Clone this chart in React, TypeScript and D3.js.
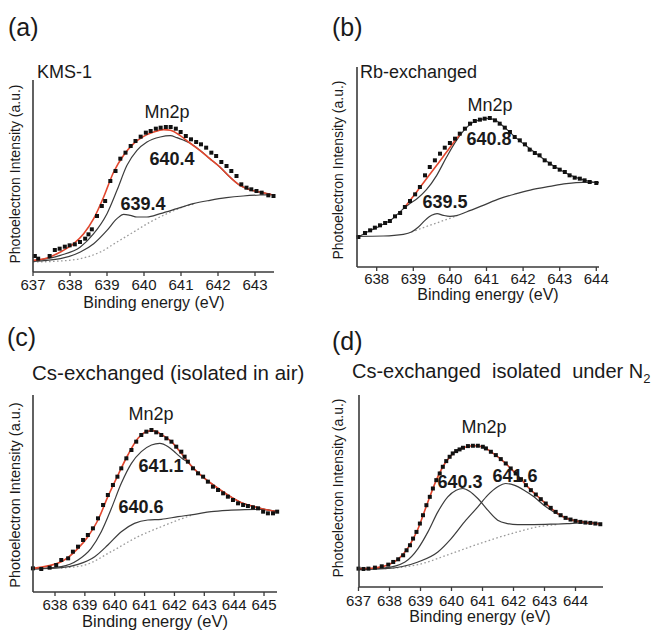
import React from 'react';
import * as d3 from 'd3';

const FONT = '"Liberation Sans", Arial, Helvetica, sans-serif';

// ---------- Panel (a) KMS-1 ----------
const aTicks = [637, 638, 639, 640, 641, 642, 643];
const aData = [[637.05,48],[637.14,40],[637.45,48],[637.59,66],[637.72,70],[637.86,76],[637.99,80],[638.13,83],[638.27,90],[638.41,100],[638.5,113],[638.59,128],[638.73,168],[638.86,198],[638.95,213],[639.09,273],[639.23,303],[639.36,340],[639.5,358],[639.64,378],[639.77,393],[639.91,406],[640.05,418],[640.18,423],[640.32,430],[640.45,433],[640.59,435],[640.72,435],[640.86,430],[640.99,420],[641.13,408],[641.27,398],[641.41,390],[641.54,383],[641.68,373],[641.82,358],[641.95,348],[642.09,330],[642.23,318],[642.36,303],[642.5,288],[642.63,263],[642.77,253],[642.9,248],[643.04,243],[643.18,238],[643.36,230],[643.5,228]];
const aFit = [[637.0,35],[637.38,42],[637.74,60],[638.1,85],[638.37,115],[638.64,160],[638.91,225],[639.18,300],[639.45,350],[639.72,385],[639.99,407],[640.26,420],[640.53,427],[640.71,425],[640.97,410],[641.24,387],[641.51,365],[641.78,340],[642.05,315],[642.32,285],[642.59,260],[642.86,247],[643.13,240],[643.45,232]];
const aPeakHigh = [[637.0,33],[637.74,50],[638.28,75],[638.64,115],[639.0,175],[639.27,245],[639.54,320],[639.81,365],[640.08,390],[640.44,405],[640.71,409],[640.89,403],[641.06,396],[641.24,387],[641.51,365],[641.78,340],[642.05,315],[642.32,285],[642.59,260],[642.86,247],[643.13,240],[643.45,232]];
const aPeakLow = [[637.0,32],[637.74,40],[638.28,60],[638.64,85],[639.0,125],[639.27,160],[639.45,173],[639.63,170],[639.81,165],[640.08,165],[640.44,175],[640.89,190],[641.33,205],[641.78,215],[642.23,223],[642.68,228],[643.13,231],[643.45,232]];
const aBackground = [[637.0,30],[637.74,33],[638.28,40],[638.82,60],[639.27,90],[639.72,120],[640.17,150],[640.62,175],[641.06,195],[641.35,204]];
const aPeakLabels = ['640.4', '639.4'];

// ---------- Panel (b) Rb-exchanged ----------
const bTicks = [638, 639, 640, 641, 642, 643, 644];
const bData = [[637.5,90],[637.68,102],[637.82,110],[637.95,118],[638.09,125],[638.23,132],[638.36,138],[638.5,152],[638.64,162],[638.77,180],[638.91,198],[639.05,218],[639.18,240],[639.32,275],[639.45,300],[639.59,320],[639.73,340],[639.86,358],[640.0,372],[640.14,385],[640.27,400],[640.41,415],[640.55,430],[640.68,438],[640.82,442],[640.95,445],[641.09,447],[641.23,440],[641.36,430],[641.5,418],[641.64,405],[641.77,390],[641.91,380],[642.05,368],[642.18,352],[642.32,342],[642.45,335],[642.59,320],[642.73,310],[642.86,300],[643.0,292],[643.14,285],[643.27,275],[643.41,268],[643.55,265],[643.68,260],[643.82,255],[644.0,252]];
const bFit = [[638.77,180],[639.09,225],[639.36,265],[639.64,305],[639.91,345],[640.18,385],[640.3,400]];
const bPeakHigh = [[637.5,90],[637.8,108],[638.1,124],[638.4,142],[638.7,172],[638.9,190],[639.1,205],[639.36,232],[639.64,275],[639.91,330],[640.18,380],[640.4,412],[640.6,432],[640.85,443],[641.05,446],[641.25,440],[641.5,418],[641.8,388],[642.1,362],[642.4,337],[642.7,313],[643.0,293],[643.3,275],[643.6,263],[643.9,255],[644.07,252]];
const bPeakLow = [[637.45,92],[638.18,93],[638.73,98],[638.95,105],[639.14,120],[639.32,140],[639.5,155],[639.65,160],[639.82,155],[640.0,152],[640.18,154],[640.45,165],[640.91,185],[641.36,205],[641.82,220],[642.27,233],[642.73,242],[643.18,250],[643.64,254],[644.07,254]];
const bBackground = [[638.95,105],[639.45,125],[640.0,146],[640.2,154]];
const bPeakLabels = ['640.8', '639.5'];

// ---------- Panel (c) Cs-exchanged (air) ----------
const cTicks = [638, 639, 640, 641, 642, 643, 644, 645];
const cData = [[637.26,71],[637.54,69],[637.82,73],[638.04,81],[638.21,96],[638.44,101],[638.6,121],[638.77,136],[638.94,156],[639.1,171],[639.27,191],[639.44,221],[639.61,261],[639.77,291],[639.94,321],[640.09,346],[640.22,371],[640.39,401],[640.56,426],[640.72,451],[640.89,471],[641.06,481],[641.23,486],[641.39,479],[641.56,471],[641.73,461],[641.9,451],[642.06,436],[642.23,421],[642.34,406],[642.45,391],[642.62,371],[642.79,356],[642.96,346],[643.12,331],[643.29,316],[643.46,306],[643.63,296],[643.79,286],[643.96,276],[644.13,266],[644.3,261],[644.46,258],[644.63,254],[644.8,251],[644.97,241],[645.13,236],[645.3,236],[645.44,241]];
const cFit = [[637.26,71],[638.21,91],[638.77,131],[639.1,166],[639.44,216],[639.77,286],[640.11,351],[640.44,411],[640.78,461],[641.06,481],[641.28,484],[641.56,473],[641.9,451],[642.23,416],[642.57,378],[642.9,349],[643.35,318],[643.79,291],[644.24,268],[644.68,256],[645.13,246],[645.44,241]];
const cPeakHigh = [[637.26,69],[638.21,76],[638.77,96],[639.21,131],[639.55,181],[639.89,251],[640.22,326],[640.56,386],[640.89,421],[641.23,441],[641.51,446],[641.79,436],[642.06,416],[642.29,398],[642.45,390],[642.57,378],[642.9,349],[643.35,318],[643.79,291],[644.24,268],[644.68,256],[645.13,246],[645.44,241]];
const cPeakLow = [[637.26,69],[638.21,73],[638.77,83],[639.33,106],[639.77,141],[640.22,181],[640.66,206],[641.11,216],[641.56,218],[642.12,226],[642.68,233],[643.23,241],[643.79,245],[644.35,247],[644.91,248],[645.44,241]];
const cBackground = [[638.2,72],[639.0,81],[639.88,121],[640.78,166],[641.56,196],[642.34,223],[642.6,231]];
const cPeakLabels = ['641.1', '640.6'];

// ---------- Panel (d) Cs-exchanged (N2) ----------
const dTicks = [637, 638, 639, 640, 641, 642, 643, 644];
const dData = [[637.0,55],[637.16,54],[637.32,55],[637.53,58],[637.75,62],[637.96,67],[638.12,75],[638.28,83],[638.44,95],[638.55,110],[638.66,125],[638.76,145],[638.87,165],[638.98,190],[639.08,215],[639.19,245],[639.3,270],[639.4,295],[639.51,320],[639.62,340],[639.72,360],[639.83,377],[639.94,390],[640.04,400],[640.15,407],[640.26,412],[640.37,417],[640.53,422],[640.69,423],[640.85,423],[641.01,420],[641.11,415],[641.27,405],[641.43,395],[641.59,383],[641.75,370],[641.91,355],[642.07,340],[642.24,323],[642.4,305],[642.56,290],[642.72,277],[642.88,263],[643.04,250],[643.2,237],[643.36,225],[643.52,215],[643.68,207],[643.84,202],[644.0,198],[644.16,195],[644.32,193],[644.48,192],[644.64,190],[644.8,188]];
const dFit = [[637.0,55],[637.5,57],[638.0,68],[638.3,85],[638.6,118],[638.9,170],[639.2,245],[639.5,318],[639.8,372],[640.1,404],[640.4,418],[640.7,423],[641.0,420],[641.3,403],[641.6,382],[641.9,356],[642.2,327],[642.5,296],[642.8,270],[643.1,245],[643.4,222],[643.7,206],[644.0,198],[644.3,193],[644.6,190],[644.85,188]];
const dPeakLeft = [[637.0,53],[637.85,57],[638.5,75],[638.92,115],[639.24,165],[639.56,225],[639.88,270],[640.15,290],[640.37,295],[640.58,287],[640.85,265],[641.17,230],[641.49,200],[641.81,190],[642.13,187],[642.66,187],[643.2,188],[643.73,190],[644.26,192],[644.8,190]];
const dPeakRight = [[637.0,53],[637.85,55],[638.92,75],[639.56,105],[639.99,145],[640.42,195],[640.85,240],[641.17,275],[641.49,300],[641.75,310],[642.02,305],[642.34,290],[642.66,270],[642.98,245],[643.3,225],[643.62,210],[643.94,200],[644.26,195],[644.8,190]];
const dBackground = [[637.85,55],[638.92,67],[639.99,100],[641.06,135],[642.13,165],[642.77,180],[643.41,187]];
const dPeakLabels = ['640.3', '641.6'];

const Y_LABEL = 'Photoelectron Intensity (a.u.)';
const X_LABEL = 'Binding energy (eV)';
const PEAK_NAME = 'Mn2p';

// ---------- Layout ----------
type Txt = { x: number; y: number; size: number };
type Panel = {
  letter: string; title: string; titleSub?: string;
  ticks: number[]; data: number[][]; fit: number[][]; comps: number[][][]; bg: number[][];
  peakLabels: string[];
  left: number; right: number; top: number; bottom: number;
  x0: number; x0px: number; pxPerEv: number; yMax: number;
  letterPos: Txt; titlePos: Txt; yLabel: Txt; xLabel: Txt; tickY: number; tickSize: number;
  mnPos: Txt; peakPos: Txt[];
};

const panels: Panel[] = [
  {
    letter: '(a)', title: 'KMS-1', ticks: aTicks, data: aData, fit: aFit, comps: [aPeakHigh, aPeakLow], bg: aBackground, peakLabels: aPeakLabels,
    left: 33, right: 274, top: 80, bottom: 272, x0: 637, x0px: 33, pxPerEv: 37.0, yMax: 576,
    letterPos: { x: 8, y: 36, size: 25 }, titlePos: { x: 37, y: 78, size: 18 },
    yLabel: { x: 15, y: 174, size: 14 }, xLabel: { x: 154, y: 308, size: 16 }, tickY: 290, tickSize: 15,
    mnPos: { x: 167, y: 118, size: 18 }, peakPos: [{ x: 172, y: 165, size: 18 }, { x: 143, y: 210, size: 18 }],
  },
  {
    letter: '(b)', title: 'Rb-exchanged', ticks: bTicks, data: bData, fit: bFit, comps: [bPeakHigh, bPeakLow], bg: bBackground, peakLabels: bPeakLabels,
    left: 357, right: 599, top: 67, bottom: 267, x0: 638, x0px: 376.7, pxPerEv: 36.6, yMax: 600,
    letterPos: { x: 332, y: 36, size: 25 }, titlePos: { x: 360, y: 78, size: 18 },
    yLabel: { x: 338, y: 170, size: 14 }, xLabel: { x: 488, y: 300, size: 16 }, tickY: 284, tickSize: 15,
    mnPos: { x: 490, y: 111, size: 18 }, peakPos: [{ x: 489, y: 145, size: 18 }, { x: 445, y: 208, size: 18 }],
  },
  {
    letter: '(c)', title: 'Cs-exchanged (isolated in air)', ticks: cTicks, data: cData, fit: cFit, comps: [cPeakHigh, cPeakLow], bg: cBackground, peakLabels: cPeakLabels,
    left: 33, right: 277, top: 395, bottom: 592, x0: 638, x0px: 55, pxPerEv: 29.86, yMax: 591,
    letterPos: { x: 7, y: 346, size: 25 }, titlePos: { x: 32, y: 380, size: 20.5 },
    yLabel: { x: 15, y: 495, size: 14.5 }, xLabel: { x: 155, y: 627, size: 16.5 }, tickY: 610, tickSize: 15,
    mnPos: { x: 151, y: 420, size: 18 }, peakPos: [{ x: 161, y: 472, size: 18 }, { x: 141, y: 513, size: 18 }],
  },
  {
    letter: '(d)', title: 'Cs-exchanged  isolated  under N', titleSub: '2', ticks: dTicks, data: dData, fit: dFit, comps: [dPeakLeft, dPeakRight], bg: dBackground, peakLabels: dPeakLabels,
    left: 359, right: 603, top: 395, bottom: 587, x0: 637, x0px: 358.5, pxPerEv: 31.0, yMax: 575,
    letterPos: { x: 332, y: 350, size: 25 }, titlePos: { x: 352, y: 378, size: 20 },
    yLabel: { x: 338, y: 488, size: 14 }, xLabel: { x: 480, y: 622, size: 16 }, tickY: 606, tickSize: 15,
    mnPos: { x: 484, y: 433, size: 18 }, peakPos: [{ x: 460, y: 488, size: 18 }, { x: 515, y: 482, size: 18 }],
  },
];

const AXIS = '#3a3a3a';
const COMP = '#3c3c3c';
const RED = '#e2472e';

function PanelView({ p }: { p: Panel }) {
  const x = d3.scaleLinear()
    .domain([p.x0 + (p.left - p.x0px) / p.pxPerEv, p.x0 + (p.right - p.x0px) / p.pxPerEv])
    .range([p.left, p.right]);
  const y = d3.scaleLinear().domain([0, p.yMax]).range([p.bottom, p.top]);
  const line = d3.line<number[]>().x(d => x(d[0])).y(d => y(d[1])).curve(d3.curveMonotoneX);
  return (
    <g fontFamily={FONT} fill="#1a1a1a">
      <text x={p.letterPos.x} y={p.letterPos.y} fontSize={p.letterPos.size}>{p.letter}</text>
      <text x={p.titlePos.x} y={p.titlePos.y} fontSize={p.titlePos.size} style={{ whiteSpace: 'pre' }}>
        {p.title}
        {p.titleSub ? <tspan fontSize={p.titlePos.size * 0.65} dy={5}>{p.titleSub}</tspan> : null}
      </text>
      <text transform={`translate(${p.yLabel.x},${p.yLabel.y}) rotate(-90)`} textAnchor="middle" dominantBaseline="central" fontSize={p.yLabel.size}>{Y_LABEL}</text>
      <text x={p.xLabel.x} y={p.xLabel.y} textAnchor="middle" fontSize={p.xLabel.size}>{X_LABEL}</text>
      <path d={line(p.bg) || ''} fill="none" stroke="#9a9a9a" strokeWidth={1.3} strokeDasharray="1.6,2.4" />
      {p.comps.map((c, i) => (
        <path key={i} d={line(c) || ''} fill="none" stroke={COMP} strokeWidth={1.2} />
      ))}
      <path d={line(p.fit) || ''} fill="none" stroke={RED} strokeWidth={1.6} />
      {p.data.map((d, i) => (
        <rect key={i} x={x(d[0]) - 2} y={y(d[1]) - 2} width={4} height={4} fill="#111" />
      ))}
      <line x1={p.left} x2={p.left} y1={p.top} y2={p.bottom} stroke={AXIS} strokeWidth={1.6} />
      <line x1={p.left} x2={p.right} y1={p.bottom} y2={p.bottom} stroke={AXIS} strokeWidth={1.6} />
      {p.ticks.map(t => (
        <g key={t}>
          <line x1={x(t)} x2={x(t)} y1={p.bottom} y2={p.bottom + 4} stroke={AXIS} strokeWidth={1.3} />
          <text x={x(t)} y={p.tickY} textAnchor="middle" fontSize={p.tickSize}>{t}</text>
        </g>
      ))}
      <text x={p.mnPos.x} y={p.mnPos.y} textAnchor="middle" fontSize={p.mnPos.size}>{PEAK_NAME}</text>
      {p.peakLabels.map((lab, i) => (
        <text key={lab} x={p.peakPos[i].x} y={p.peakPos[i].y} textAnchor="middle" fontSize={p.peakPos[i].size} fontWeight="bold">{lab}</text>
      ))}
    </g>
  );
}

export default function App() {
  return (
    <svg width={651} height={634} viewBox="0 0 651 634" style={{ position: 'absolute', left: 0, top: 0, background: '#fff' }}>
      <rect width={651} height={634} fill="#fff" />
      {panels.map(p => <PanelView key={p.letter} p={p} />)}
    </svg>
  );
}
